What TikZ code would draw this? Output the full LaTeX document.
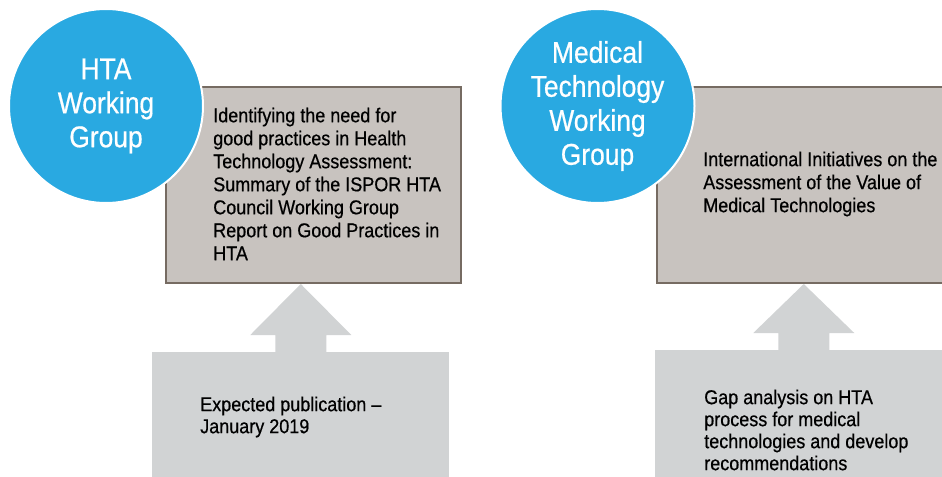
\documentclass[tikz,border=0pt]{standalone}
\usepackage{fontspec}
\setmainfont{Liberation Sans}[FakeStretch=0.9, FakeBold=0.6]
\newfontfamily\wgfont{Liberation Sans}[FakeStretch=0.88, FakeBold=0.6]
\usetikzlibrary{calc}
\definecolor{wgblue}{HTML}{29A9E1}
\definecolor{reportfill}{HTML}{C8C3BF}
\definecolor{reportline}{HTML}{766B62}
\definecolor{pubfill}{HTML}{D1D3D4}
\tikzset{
  wgcircle/.style  = {shape=circle, draw=white, line width=1.5pt, fill=wgblue,
                      minimum size=145.5pt, inner sep=0pt, align=center,
                      text=white, font=\wgfont\fontsize{22.5}{25.5}\selectfont},
  reportbox/.style = {shape=rectangle, %rounded corners,
                      draw=reportline, line width=1.5pt, fill=reportfill,
                      minimum width=221.25pt, minimum height=147pt, anchor=north west},
  pubbox/.style    = {shape=rectangle, fill=pubfill,
                      minimum width=222.75pt, minimum height=105pt, anchor=north west},
  uparrow/.style   = {fill=pubfill},
  boxtext/.style   = {anchor=west, align=left, inner sep=0pt,
                      font=\fontsize{15}{17.25}\selectfont},
  pubtext/.style   = {boxtext, font=\fontsize{15}{16.5}\selectfont}
}
\begin{document}
\begin{tikzpicture}[x=0.75pt, y=-0.75pt]
  \useasboundingbox (0,0) rectangle (942,477);
  \clip (0,0) rectangle (942,477);

  % bottom blocks
  \node[pubbox] (htapub) at (152,352) {};
  \node[pubbox] (medpub) at (655,350) {};

  % report boxes
  \node[reportbox] (htabox) at (165,86) {};
  \node[reportbox] (medbox) at (656,86) {};

  % block arrows
  \fill[uparrow] ($(htapub.north)+(-25.5,1)$) -- ($(htapub.north |- htabox.south)+(-25.5,51)$)
    -- ++(-25,0) -- (htapub.north |- htabox.south) -- ($(htapub.north |- htabox.south)+(50.5,51)$)
    -- ++(-25,0) -- ($(htapub.north)+(25.5,1)$) -- cycle;
  \fill[uparrow] ($(medpub.north)+(-25.5,1)$) -- ($(medpub.north |- medbox.south)+(-25.5,49)$)
    -- ++(-25,0) -- (medpub.north |- medbox.south) -- ($(medpub.north |- medbox.south)+(50.5,49)$)
    -- ++(-25,0) -- ($(medpub.north)+(25.5,1)$) -- cycle;

  \node[boxtext] (htatitle) at (213,184) {Identifying the need for\\good practices in Health\\Technology Assessment:\\Summary of the ISPOR HTA\\Council Working Group\\Report on Good Practices in\\HTA};
  \node[boxtext] (medtitle) at (703,184) {International Initiatives on the\\Assessment of the Value of\\Medical Technologies};
  \node[pubtext] (htapubtext) at (200,417) {Expected publication --\\January 2019};
  \node[pubtext] (medpubtext) at (704,430) {Gap analysis on HTA\\process for medical\\technologies and develop\\recommendations};

  % working groups
  \node[wgcircle] (hta) at (106,106) {HTA\\Working\\Group};
  \node[wgcircle] (medtech) at (597.5,106) {Medical\\Technology\\Working\\Group};
\end{tikzpicture}
\end{document}
